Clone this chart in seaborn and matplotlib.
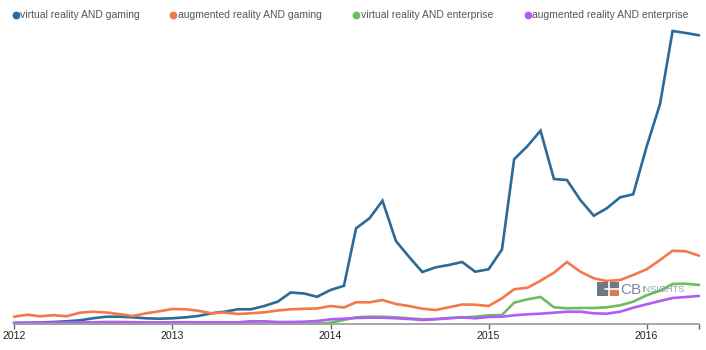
import numpy as np
import pandas as pd
import matplotlib
matplotlib.use("Agg")
import matplotlib.pyplot as plt
import matplotlib.dates as mdates
from matplotlib.lines import Line2D
from matplotlib.patches import Rectangle
import seaborn as sns

# ---------------- data ----------------
months = pd.date_range("2012-01-01", "2016-05-01", freq="MS")

series_names = ["virtual reality AND gaming", "augmented reality AND gaming",
                "virtual reality AND enterprise", "augmented reality AND enterprise"]

vr_gaming = [1, 1.2, 1.5, 2, 2.7, 3.7, 5.7, 7.3, 7.3, 6.7, 5.7, 5.3,
             5.7, 6.7, 8, 10.7, 12.3, 14.7, 14.7, 18, 22.3, 31.5, 30.5, 27.2,
             34, 38.2, 95.7, 105.7, 123.3, 83, 67.3, 52, 56.7, 59, 62, 52.3,
             54.7, 74.5, 164.7, 178, 193.3, 145, 144, 124, 108.3, 115.7, 126.7, 129.7,
             177.3, 220, 293, 291, 288.7]
ar_gaming = [7.3, 9.3, 7.7, 8.8, 7.7, 11.3, 12.3, 11.5, 9.8, 8, 10.7, 12.7,
             15, 14.7, 13.3, 10.7, 11.5, 10, 10.7, 11.7, 13.5, 14.7, 15.2, 15.5,
             18, 16.5, 21.7, 21.7, 24, 20, 18, 15.3, 14, 16.7, 19.5, 19.3,
             18, 25.7, 34.7, 36.3, 43.3, 51.3, 62, 52.3, 45.7, 43, 44, 49,
             54.7, 64, 73.3, 72.7, 68.3]
vr_enterprise = [0.5] * 24 + [1.3, 4, 6.7, 7.3, 7.3, 6.7, 5.7, 4.7, 5, 6, 6.5, 7.3,
                              8.7, 9, 21.3, 24.7, 27, 16.7, 15.7, 16, 16, 16.7, 18.7, 22.3,
                              28.7, 33.3, 40, 40.3, 39]
ar_enterprise = [1.2, 1.2, 1.4, 1.4, 1.5, 1.5, 1.7, 2, 2, 1.8, 1.6, 1.6,
                 1.7, 1.8, 1.7, 1.7, 1.7, 1.7, 2.7, 2.7, 2, 2, 2.3, 3,
                 4.7, 5.3, 6, 6.3, 6.3, 5.7, 5, 4, 4.7, 5.7, 6.7, 5.7,
                 7, 7.3, 8.7, 9.7, 10.3, 11.3, 12.3, 12.3, 10.7, 10.3, 12.3, 16.3,
                 19.7, 23, 26, 27, 28]

year_ticks = ["2012", "2013", "2014", "2015", "2016"]
colors = ["#2b6a99", "#f4784a", "#6cbd60", "#b05cf6"]

df = pd.concat([
    pd.DataFrame({"date": months, "value": vals, "series": name})
    for name, vals in zip(series_names, [vr_gaming, ar_gaming, vr_enterprise, ar_enterprise])
], ignore_index=True)

# ---------------- figure ----------------
sns.set_theme(style="white")
plt.rcParams["font.family"] = ["Liberation Sans", "DejaVu Sans"]

W, H = 706, 350
fig = plt.figure(figsize=(W / 100, H / 100), dpi=100)
ax = fig.add_axes([14 / W, 26 / H, 685 / W, 304 / H])

sns.lineplot(data=df, x="date", y="value", hue="series", hue_order=series_names,
             palette=colors, linewidth=1.9, legend=False, ax=ax)
for ln in ax.get_lines():
    ln.set_clip_on(False)
    ln.set_solid_joinstyle("miter")

ax.set_xlim(months[0], months[-1])
ax.set_ylim(0, 304)
ax.set_xlabel("")
ax.set_ylabel("")
ax.set_yticks([])
for s in ["top", "right", "left"]:
    ax.spines[s].set_visible(False)
ax.spines["bottom"].set_color("#a0a0a0")
ax.spines["bottom"].set_linewidth(1.3)

tick_dates = [pd.Timestamp(f"{y}-01-01") for y in year_ticks]
ax.set_xticks(tick_dates)
ax.set_xticklabels(year_ticks)
ax.set_xticks([mdates.date2num(months[-1])], minor=True)
ax.tick_params(axis="x", which="both", direction="out", length=3.5, width=1,
               color="#666666", labelsize=7.6, labelcolor="#222222", pad=1.5, bottom=True)
ax.tick_params(axis="x", which="minor", labelbottom=False)
ax.grid(False)

# ---------------- legend ----------------
dot_x = [16, 173.3, 356, 527.5]
ly = 1 - 15 / H
for name, c, dx in zip(series_names, colors, dot_x):
    fig.add_artist(Line2D([dx / W], [ly], marker="o", markersize=4.6, color=c,
                          linestyle="none", transform=fig.transFigure))
    fig.text((dx + 4.5) / W, ly, name, fontsize=7.5, color="#555555",
             va="center", ha="left")

# ---------------- watermark ----------------
def px(x, y):
    return x / W, 1 - y / H

x0, y0 = px(597, 296)
fig.add_artist(Rectangle((x0, y0), 22 / W, 14 / H, transform=fig.transFigure,
                         facecolor="#56626e", edgecolor="none", alpha=0.85))
x1, y1 = px(610, 296)
fig.add_artist(Rectangle((x1, y1), 9 / W, 7 / H, transform=fig.transFigure,
                         facecolor="#e87d55", edgecolor="none", alpha=0.9))
fig.add_artist(Line2D([609 / W, 609 / W], [1 - 282 / H, 1 - 296 / H], color="white",
                      lw=1.2, transform=fig.transFigure))
fig.add_artist(Line2D([605 / W, 619 / W], [1 - 289 / H, 1 - 289 / H], color="white",
                      lw=1.2, transform=fig.transFigure))
fig.text(620.5 / W, 1 - 289.5 / H, "CB", fontsize=11, color="#6a7d96", alpha=0.9,
         va="center", ha="left")
fig.text(641.5 / W, 1 - 290 / H, "INSIGHTS", fontsize=6.6, color="#7d8fa8", alpha=0.85,
         va="center", ha="left")

fig.savefig("out.png", dpi=100)
